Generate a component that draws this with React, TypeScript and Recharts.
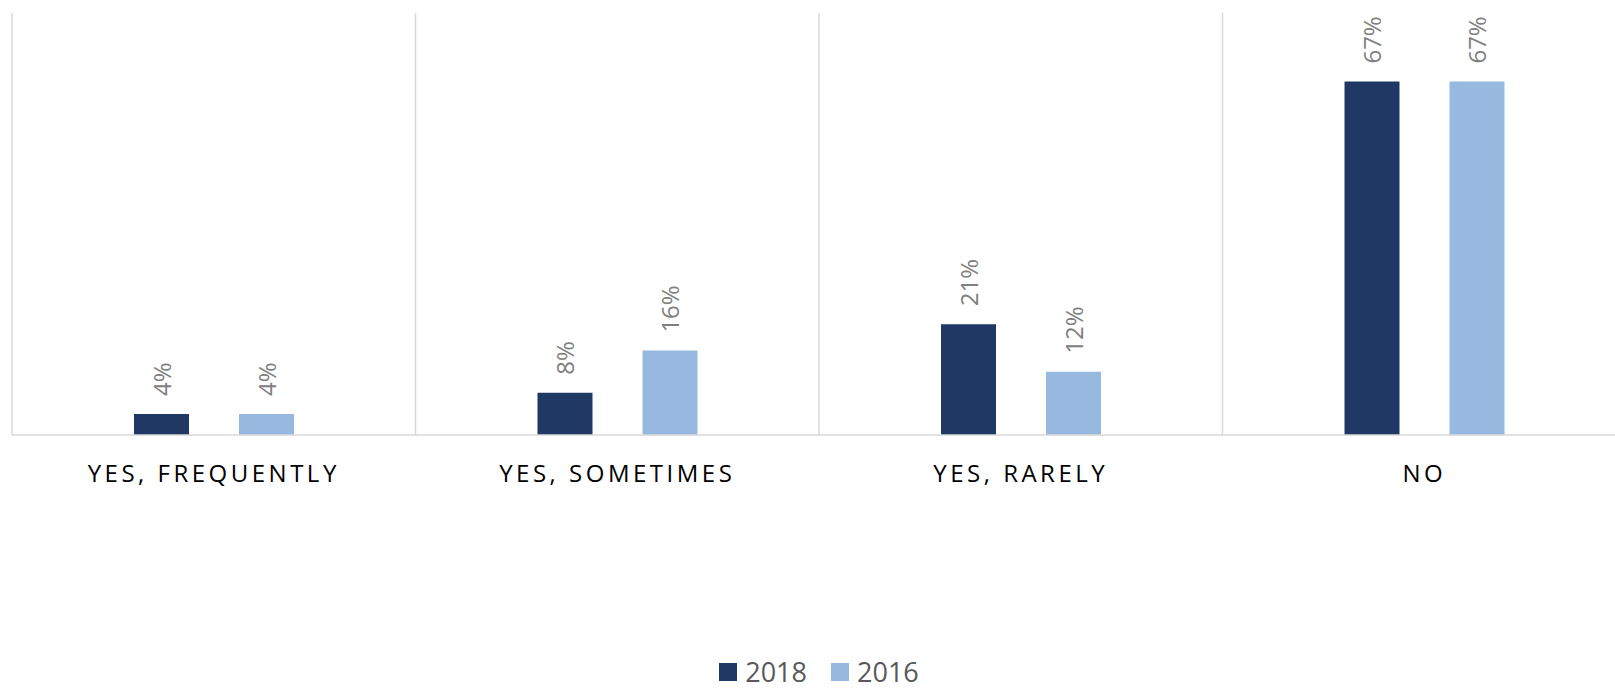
import React from 'react';
import { BarChart, Bar, XAxis, YAxis, CartesianGrid, Legend, LabelList } from 'recharts';

const CATEGORIES = ['YES, FREQUENTLY', 'YES, SOMETIMES', 'YES, RARELY', 'NO'];
const VALUES_2018 = [4, 8, 21, 67];
const VALUES_2016 = [4, 16, 12, 67];
const SERIES = ['2018', '2016'];
const COLORS = ['#203864', '#97B9E0'];

const data = CATEGORIES.map((name, i) => ({
  name,
  y2018: VALUES_2018[i],
  y2016: VALUES_2016[i],
}));

const FONT = '"Open Sans", "Noto Sans", sans-serif';

const CategoryTick = (props: any) => {
  const { x, y, payload } = props;
  return (
    <text
      x={x}
      y={y}
      dy={39}
      textAnchor="middle"
      fill="#000000"
      fontSize={24}
      fontFamily={FONT}
      style={{ letterSpacing: '3.5px' }}
    >
      {payload.value}
    </text>
  );
};

const PercentLabel = (props: any) => {
  const { x, y, width, value } = props;
  const cx = x + width / 2;
  const cy = y - 18;
  return (
    <text
      x={cx}
      y={cy}
      transform={`rotate(-90 ${cx} ${cy})`}
      textAnchor="start"
      dominantBaseline="central"
      fill="#808080"
      fontSize={24}
      fontFamily={FONT}
    >
      {`${value}%`}
    </text>
  );
};

const LegendContent = () => (
  <div
    style={{
      height: 30,
      display: 'flex',
      justifyContent: 'center',
      alignItems: 'center',
      fontFamily: FONT,
      fontSize: 27,
      color: '#595959',
    }}
  >
    {SERIES.map((s, i) => (
      <div key={s} style={{ display: 'flex', alignItems: 'center', marginRight: i === 0 ? 24 : 0 }}>
        <span style={{ width: 18, height: 18, background: COLORS[i], display: 'inline-block', marginRight: 8 }} />
        <span style={{ lineHeight: '30px' }}>{s}</span>
      </div>
    ))}
  </div>
);

// vertical lines sit on the category boundaries, not on the ticks
const boundaryLines = ({ offset }: any) =>
  CATEGORIES.map((_, i) => offset.left + (offset.width * i) / CATEGORIES.length);

export default function App() {
  return (
    <div style={{ position: 'absolute', left: 0, top: 0, width: 1615, height: 689, overflow: 'hidden', background: '#fff' }}>
      <BarChart
        width={1630}
        height={689}
        data={data}
        margin={{ top: 13, right: 4, left: 12, bottom: 2 }}
        barSize={55}
        barGap={50}
      >
        <CartesianGrid horizontal={false} stroke="#d9d9d9" strokeWidth={1.5} verticalCoordinatesGenerator={boundaryLines} />
        <XAxis
          dataKey="name"
          axisLine={{ stroke: '#d9d9d9', strokeWidth: 1.5 }}
          tickLine={false}
          height={222}
          tick={<CategoryTick />}
          interval={0}
        />
        <YAxis hide domain={[0, 80]} />
        <Legend verticalAlign="bottom" content={<LegendContent />} />
        <Bar dataKey="y2018" name="2018" fill={COLORS[0]} isAnimationActive={false}>
          <LabelList dataKey="y2018" content={<PercentLabel />} />
        </Bar>
        <Bar dataKey="y2016" name="2016" fill={COLORS[1]} isAnimationActive={false}>
          <LabelList dataKey="y2016" content={<PercentLabel />} />
        </Bar>
      </BarChart>
    </div>
  );
}
